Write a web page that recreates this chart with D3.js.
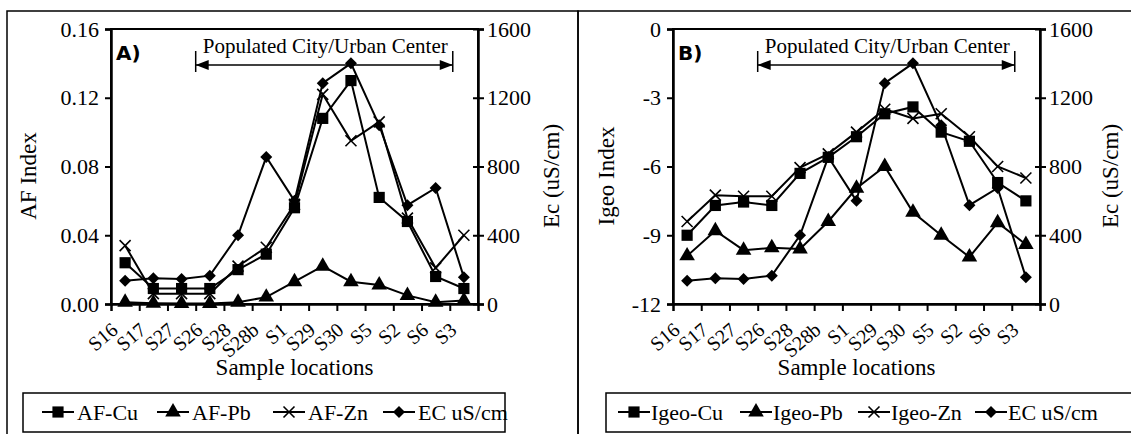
<!DOCTYPE html>
<html>
<head>
<meta charset="utf-8">
<script src="https://cdn.jsdelivr.net/npm/d3@7"></script>
<style>
  body { margin: 0; background: #fff; }
  svg { display: block; }
  text { font-family: "Liberation Serif", "Times New Roman", serif; fill: #000; }
</style>
</head>
<body>
<div class="chart"></div>
<script>
// data
const sites = ["S16", "S17", "S27", "S26", "S28", "S28b", "S1", "S29", "S30", "S5", "S2", "S6", "S3"];
const afCu = [0.024, 0.009, 0.009, 0.009, 0.020, 0.029, 0.056, 0.108, 0.130, 0.062, 0.048, 0.016, 0.009];
const afPb = [0.001, 0.0005, 0.0003, 0.0003, 0.001, 0.004, 0.013, 0.022, 0.013, 0.011, 0.005, 0.001, 0.002];
const afZn = [0.034, 0.006, 0.006, 0.006, 0.022, 0.033, 0.058, 0.122, 0.095, 0.106, 0.050, 0.021, 0.040];
const igeoCu = [-9.0, -7.7, -7.55, -7.7, -6.3, -5.6, -4.7, -3.7, -3.4, -4.5, -4.9, -6.7, -7.5];
const igeoPb = [-9.9, -8.8, -9.65, -9.55, -9.6, -8.4, -6.95, -6.0, -8.0, -9.0, -9.95, -8.45, -9.4];
const igeoZn = [-8.4, -7.25, -7.3, -7.3, -6.05, -5.45, -4.5, -3.5, -3.9, -3.7, -4.7, -6.0, -6.5];
const ecValues = [135, 150, 145, 165, 400, 855, 600, 1285, 1400, 1040, 575, 675, 155];

const afTicks = [0, 0.04, 0.08, 0.12, 0.16];
const igeoTicks = [-12, -9, -6, -3, 0];
const ecTicks = [0, 400, 800, 1200, 1600];
const annotation = "Populated City/Urban Center";
const zoneStart = "S26";
const zoneEnd = "S6";

const svg = d3.select(".chart")
  .append("svg")
  .attr("width", 1131)
  .attr("height", 434)
  .attr("font-family", "Liberation Serif, serif");

// marker shapes
const markerPath = {
  square: d3.symbol(d3.symbolSquare, 125)(),
  triangle: d3.symbol(d3.symbolTriangle, 105)(),
  diamond: d3.symbol(d3.symbolSquare, 72)(),
  cross: "M-5.5,-5.5L5.5,5.5M-5.5,5.5L5.5,-5.5"
};

function drawMarker(g, shape, x, y) {
  const p = g.append("path")
    .attr("d", markerPath[shape])
    .attr("transform", `translate(${x},${y})` + (shape === "diamond" ? " rotate(45)" : ""));
  if (shape === "cross") {
    p.attr("fill", "none").attr("stroke", "#000").attr("stroke-width", 1.6);
  } else {
    p.attr("fill", "#000");
  }
}

function drawPanel(cfg) {
  const g = svg.append("g");

  // outer frame of the panel
  g.append("rect")
    .attr("x", cfg.frame[0])
    .attr("y", 11)
    .attr("width", cfg.frame[1] - cfg.frame[0])
    .attr("height", 440)
    .attr("fill", "none")
    .attr("stroke", "#000")
    .attr("stroke-width", 1.5);

  const left = cfg.left, right = cfg.right, top = 29, bottom = 304;

  const xBand = d3.scaleBand().domain(sites).range([left, right]).padding(0);
  const xEdge = d3.scaleLinear().domain([0, sites.length]).range([left, right]);
  const yLeft = d3.scaleLinear().domain(cfg.domain).range([bottom, top]);
  const yRight = d3.scaleLinear().domain([0, 1600]).range([bottom, top]);

  // plot box
  g.append("rect")
    .attr("x", left).attr("y", top)
    .attr("width", right - left).attr("height", bottom - top)
    .attr("fill", "none").attr("stroke", "#000").attr("stroke-width", 2);

  // left axis
  const la = g.append("g")
    .attr("transform", `translate(${left},0)`)
    .call(d3.axisLeft(yLeft).tickValues(cfg.ticks).tickFormat(cfg.fmt).tickSize(6).tickPadding(6));
  // right axis, ticks cross the line
  const ra = g.append("g")
    .attr("transform", `translate(${right},0)`)
    .call(d3.axisRight(yRight).tickValues(ecTicks).tickFormat(d => String(d)).tickSize(6).tickPadding(3));
  ra.selectAll(".tick line").attr("x1", -5);
  // bottom axis with ticks on the category edges
  const ba = g.append("g")
    .attr("transform", `translate(0,${bottom})`)
    .call(d3.axisBottom(xEdge).tickValues(d3.range(1, sites.length)).tickFormat("").tickSize(7));

  [la, ra, ba].forEach(a => {
    a.attr("font-family", "Liberation Serif, serif").attr("font-size", 22);
    a.select(".domain").attr("stroke-width", 2.5);
    a.selectAll(".tick line").attr("stroke-width", 2);
    a.selectAll("text").attr("fill", "#000");
  });

  // category labels
  g.append("g").selectAll("text")
    .data(sites)
    .enter()
    .append("text")
    .attr("transform", d => `translate(${xBand(d) + xBand.bandwidth() / 2 - 6},${bottom + 28}) rotate(-40)`)
    .attr("text-anchor", "end")
    .style("font-size", "20px")
    .text(d => d);

  // axis titles
  g.append("text")
    .attr("transform", `translate(${cfg.leftTitleX},176) rotate(-90)`)
    .attr("text-anchor", "middle")
    .style("font-size", "23px")
    .text(cfg.leftTitle);
  g.append("text")
    .attr("transform", `translate(${cfg.rightTitleX},176) rotate(-90)`)
    .attr("text-anchor", "middle")
    .style("font-size", "23px")
    .text("Ec (uS/cm)");
  g.append("text")
    .attr("x", (left + right) / 2)
    .attr("y", 375)
    .attr("text-anchor", "middle")
    .style("font-size", "23px")
    .text("Sample locations");

  // panel letter
  g.append("text")
    .attr("x", left + 5)
    .attr("y", 60)
    .style("font-family", "DejaVu Sans, sans-serif")
    .style("font-weight", "bold")
    .style("font-size", "20px")
    .text(cfg.letter);

  // populated zone arrow
  const ax1 = xBand(zoneStart), ax2 = xBand(zoneEnd) + xBand.bandwidth() + 3;
  const ay = 65;
  g.append("line").attr("x1", ax1).attr("x2", ax2).attr("y1", ay).attr("y2", ay)
    .attr("stroke", "#000").attr("stroke-width", 1.5);
  [ax1, ax2].forEach((x, i) => {
    g.append("line").attr("x1", x).attr("x2", x).attr("y1", ay - 14).attr("y2", ay + 7)
      .attr("stroke", "#000").attr("stroke-width", 1.5);
    const s = i === 0 ? 1 : -1;
    g.append("path")
      .attr("d", `M${x},${ay}L${x + s * 13},${ay - 5}L${x + s * 13},${ay + 5}Z`)
      .attr("fill", "#000");
  });
  g.append("text")
    .attr("x", (ax1 + ax2) / 2 + 1)
    .attr("y", 53)
    .attr("text-anchor", "middle")
    .style("font-size", "21px")
    .text(annotation);

  // series
  const series = [
    { values: cfg.series[0], shape: "square", scale: yLeft },
    { values: cfg.series[1], shape: "triangle", scale: yLeft },
    { values: cfg.series[2], shape: "cross", scale: yLeft },
    { values: ecValues, shape: "diamond", scale: yRight }
  ];
  const cx = (d, i) => xBand(sites[i]) + xBand.bandwidth() / 2;
  series.forEach(s => {
    const line = d3.line()
      .x(cx)
      .y(d => s.scale(d));
    g.append("path")
      .attr("d", line(s.values))
      .attr("fill", "none")
      .attr("stroke", "#000")
      .attr("stroke-width", 2);
    s.values.forEach((v, i) => drawMarker(g, s.shape, cx(v, i), s.scale(v)));
  });

  // legend
  const lg = g.append("g");
  lg.append("rect")
    .attr("x", cfg.legend.x).attr("y", 393)
    .attr("width", cfg.legend.w).attr("height", 39)
    .attr("fill", "#fff").attr("stroke", "#000").attr("stroke-width", 1.5);
  cfg.legend.items.forEach((it, i) => {
    const x0 = cfg.legend.pos[i];
    lg.append("line").attr("x1", x0).attr("x2", x0 + 32).attr("y1", 412).attr("y2", 412)
      .attr("stroke", "#000").attr("stroke-width", 2);
    drawMarker(lg, series[i].shape, x0 + 16, 412);
    lg.append("text")
      .attr("x", x0 + cfg.legend.gap)
      .attr("y", 420)
      .style("font-size", "22px")
      .text(it);
  });
}

drawPanel({
  frame: [7, 578],
  left: 111, right: 478,
  domain: [0, 0.16], ticks: afTicks, fmt: d3.format(".2f"),
  leftTitle: "AF Index", leftTitleX: 36, rightTitleX: 559,
  letter: "A)",
  series: [afCu, afPb, afZn],
  legend: { x: 23, w: 482, gap: 35, pos: [42, 157, 273, 383], items: ["AF-Cu", "AF-Pb", "AF-Zn", "EC uS/cm"] }
});

drawPanel({
  frame: [578, 1140],
  left: 673, right: 1040,
  domain: [-12, 0], ticks: igeoTicks, fmt: d => String(d),
  leftTitle: "Igeo Index", leftTitleX: 614, rightTitleX: 1118,
  letter: "B)",
  series: [igeoCu, igeoPb, igeoZn],
  legend: { x: 606, w: 540, gap: 33, pos: [618, 740, 858, 975], items: ["Igeo-Cu", "Igeo-Pb", "Igeo-Zn", "EC uS/cm"] }
});
</script>
</body>
</html>
